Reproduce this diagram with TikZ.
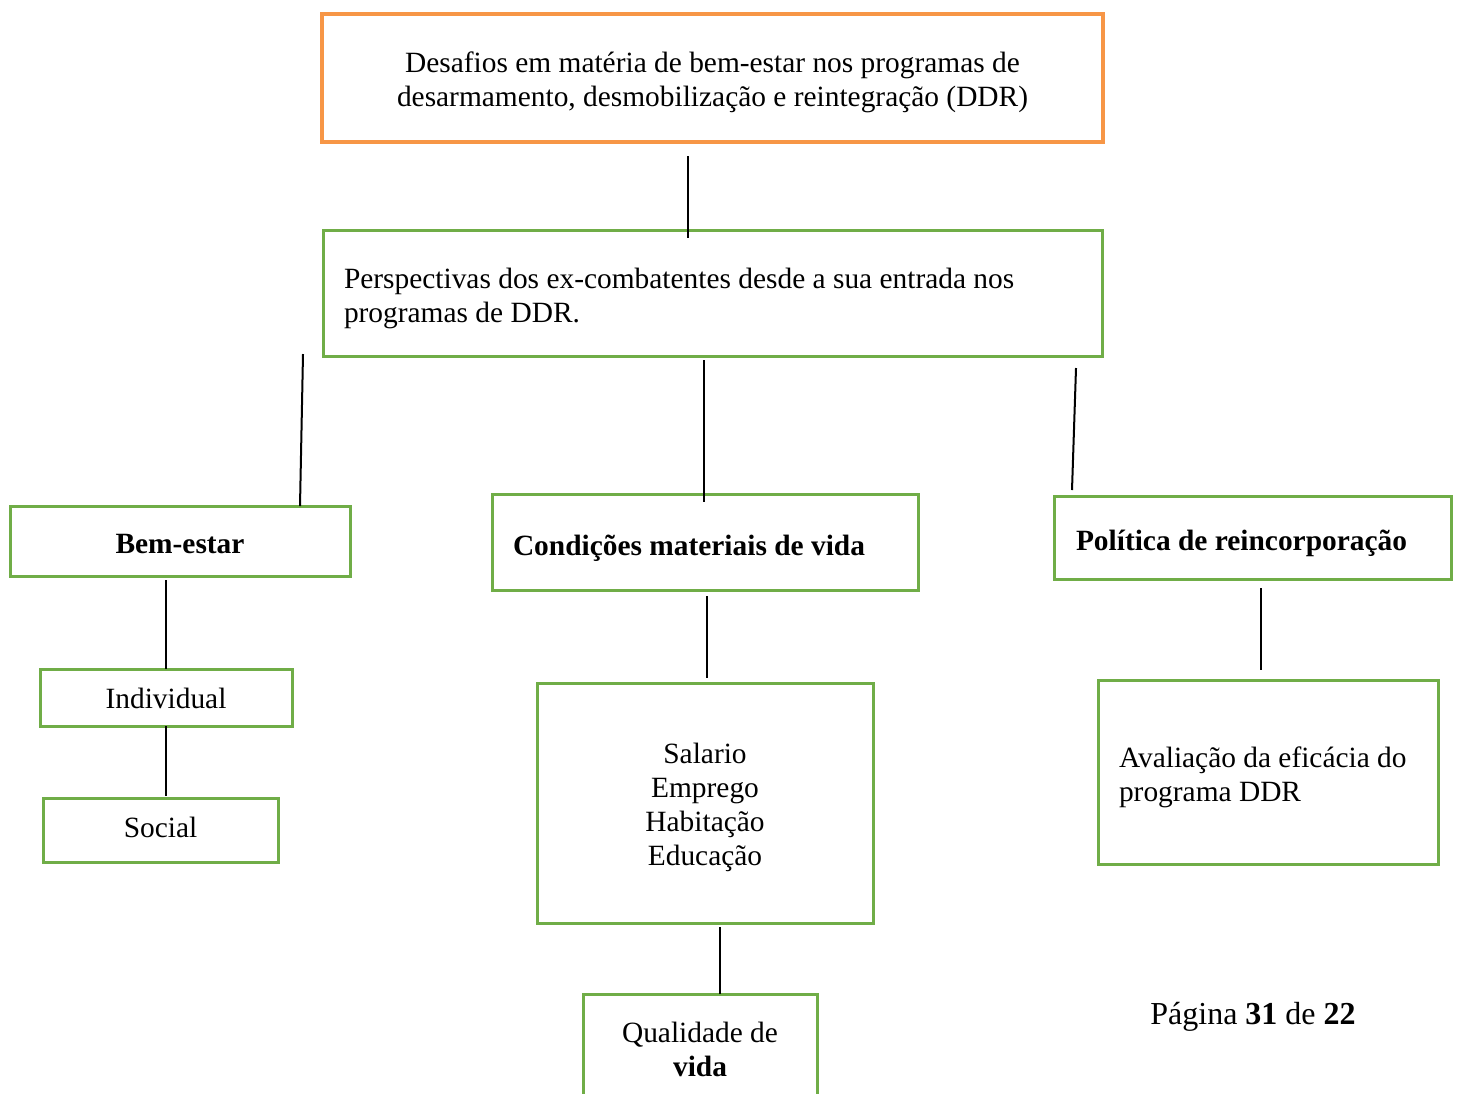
\documentclass[tikz,border=0pt]{standalone}
\usepackage{fontspec}
\setmainfont{Liberation Serif}
\definecolor{ddrgreen}{HTML}{70AD47}
\definecolor{ddrorange}{HTML}{F79646}
\begin{document}
\begin{tikzpicture}[x=0.5pt,y=-0.5pt,
  every node/.style={font=\fontsize{14.7}{17}\selectfont, inner sep=0pt, outer sep=0pt},
  gbox/.style={draw=ddrgreen, line width=1.5pt},
  obox/.style={draw=ddrorange, line width=2.2pt},
  ctext/.style={align=center},
  ltext/.style={text width=#1, align=flush left},
  conn/.style={draw=black, line width=1pt}]
\useasboundingbox (0,0) rectangle (1459,1093);
\clip (0,0) rectangle (1459,1093);

% boxes
\node[obox, minimum width=390.5pt, minimum height=64pt] (top) at (712.5,78) {};
\node[gbox, minimum width=389.5pt, minimum height=63pt] (persp) at (712.5,293) {};
\node[gbox, minimum width=170pt, minimum height=35pt] (bem) at (180,541) {};
\node[gbox, minimum width=213pt, minimum height=48pt] (cond) at (705,542) {};
\node[gbox, minimum width=198.5pt, minimum height=41.5pt] (pol) at (1252.5,537.5) {};
\node[gbox, minimum width=126pt, minimum height=28.5pt] (ind) at (166,697.5) {};
\node[gbox, minimum width=117.5pt, minimum height=32pt] (soc) at (160.5,830) {};
\node[gbox, minimum width=168pt, minimum height=120pt] (sal) at (705,803) {};
\node[gbox, minimum width=117pt, minimum height=55pt] (qual) at (700,1049) {};
\node[gbox, minimum width=170pt, minimum height=92pt] (aval) at (1268,772) {};

% texts
\node[ctext] (topT) at ([yshift=-2pt]top.center)
  {Desafios em matéria de bem-estar nos programas de\\desarmamento, desmobilização e reintegração (DDR)};
\node[ltext=368.5pt] (perspT) at ([yshift=-2.5pt]persp.center)
  {Perspectivas dos ex-combatentes desde a sua entrada nos\\programas de DDR.};
\node[ctext] (bemT) at ([yshift=-1.5pt]bem.center) {\textbf{Bem-estar}};
\node[ltext=192pt] (condT) at ([yshift=-3pt]cond.center) {\textbf{Condições materiais de vida}};
\node[ltext=176.5pt] (polT) at ([yshift=-3pt]pol.center) {\textbf{Política de reincorporação}};
\node[ctext] (indT) at ([yshift=-0.5pt]ind.center) {Individual};
\node[ctext] (socT) at ([yshift=1.5pt]soc.center) {Social};
\node[ctext] (salT) at ([yshift=-2pt]sal.center) {Salario\\Emprego\\Habitação\\Educação};
\node[ctext] (qualT) at (qual.center) {Qualidade de\\\textbf{vida}};
\node[ltext=149pt] (avalT) at ([yshift=-2.5pt]aval.center) {Avaliação da eficácia do\\programa DDR};
\node[font=\fontsize{16}{19}\selectfont] (page) at (1253,1017) {Página \textbf{31} de \textbf{22}};

% connectors
\draw[conn] ([xshift=-12.25pt,yshift=-7pt]top.south) -- ([xshift=-12.25pt,yshift=-4pt]persp.north);
\draw[conn] ([xshift=-10pt,yshift=1pt]persp.south west) -- ([xshift=60pt]bem.north);
\draw[conn] ([xshift=-4.25pt,yshift=-2pt]persp.south) -- ([xshift=-0.5pt,yshift=-4pt]cond.north);
\draw[conn] ([xshift=-13pt,yshift=-6pt]persp.south east) -- ([xshift=-90.25pt,yshift=3pt]pol.north);
\draw[conn] ([xshift=-7pt,yshift=-2pt]bem.south) -- (ind.north);
\draw[conn] (ind.south) -- ([xshift=2.75pt,yshift=1pt]soc.north);
\draw[conn] ([xshift=1pt,yshift=-3pt]cond.south) -- ([xshift=1pt,yshift=2.5pt]sal.north);
\draw[conn] ([xshift=7.5pt,yshift=-2pt]sal.south) -- ([xshift=10pt]qual.north);
\draw[conn] ([xshift=4.25pt,yshift=-4.5pt]pol.south) -- ([xshift=-3.5pt,yshift=5pt]aval.north);
\end{tikzpicture}
\end{document}
